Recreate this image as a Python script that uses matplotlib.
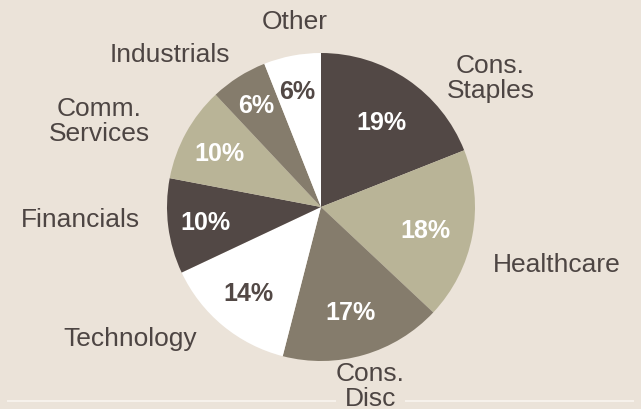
import matplotlib
matplotlib.use("Agg")
import matplotlib.pyplot as plt
from matplotlib.lines import Line2D

categories = ["Cons.\nStaples", "Healthcare", "Cons.\nDisc", "Technology",
              "Financials", "Comm.\nServices", "Industrials", "Other"]
values = [19, 18, 17, 14, 10, 10, 6, 6]
colors = ["#524845", "#b9b497", "#857c6c", "#ffffff",
          "#524845", "#b9b497", "#857c6c", "#ffffff"]
pct_colors = ["white", "white", "white", "#524845",
              "white", "white", "white", "#524845"]
# label positions (in pie radius units)
label_pos = [(1.10, 0.84), (1.53, -0.37), (0.32, -1.16), (-1.24, -0.85),
             (-1.56, -0.08), (-1.44, 0.56), (-0.98, 0.995), (-0.17, 1.205)]
pct_pos = [(0.39, 0.55), (0.68, -0.15), (0.19, -0.685), (-0.47, -0.56),
           (-0.75, -0.10), (-0.66, 0.35), (-0.42, 0.66), (-0.156, 0.756)]

plt.rcParams['font.family'] = ['Liberation Sans', 'DejaVu Sans']
bg = "#ebe3d9"
txt = "#4d4543"
fig = plt.figure(figsize=(6.41, 4.10), dpi=100, facecolor=bg)
W, H = 641, 410
cx, cy, r = 321, 208, 154
ax = fig.add_axes([(cx - r) / W, (H - cy - r) / H, 2 * r / W, 2 * r / H])
ax.set_facecolor(bg)

wedges, texts, autotexts = ax.pie(
    values, labels=categories, colors=colors, startangle=90, counterclock=False,
    autopct=lambda p: f"{p:.0f}%", pctdistance=0.72, labeldistance=1.2,
    textprops=dict(fontsize=19, color=txt))
for t, pos in zip(texts, label_pos):
    t.set_position(pos)
    t.set_ha("center")
    t.set_va("center")
    t.set_multialignment("center")
    t.set_linespacing(1.05)
    t.set_fontsize(19)
texts[2].set_bbox(dict(facecolor=bg, edgecolor="none", pad=0))
for t, c, pos in zip(autotexts, pct_colors, pct_pos):
    t.set_color(c)
    t.set_position(pos)
    t.set_fontweight("bold")
    t.set_fontsize(18)
ax.set_xlim(-1, 1)
ax.set_ylim(-1, 1)
ax.set_aspect("equal")
ax.axis("off")

fig.add_artist(Line2D([8 / W, 633 / W], [1 - 402 / H] * 2, color="#f6f1eb",
                      lw=1.5, zorder=-1))

fig.savefig("out.png", dpi=100, facecolor=bg)
